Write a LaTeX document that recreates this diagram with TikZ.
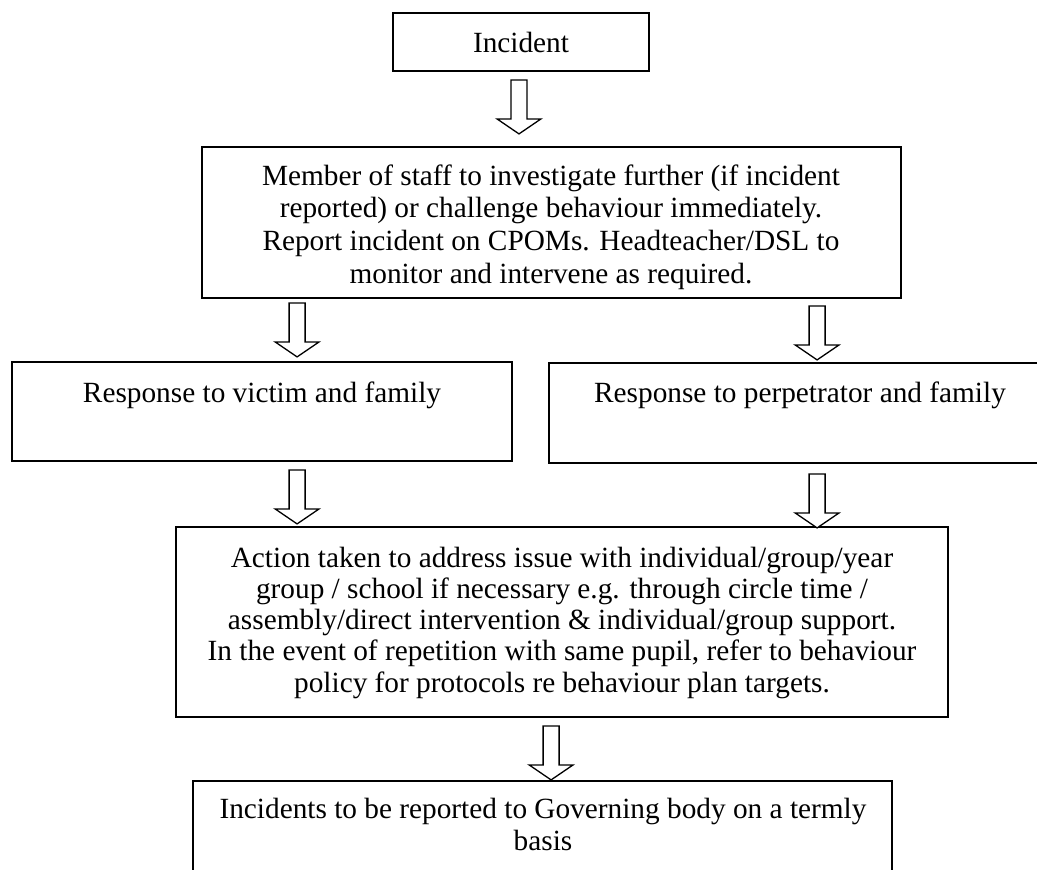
\documentclass[tikz,border=0pt]{standalone}
\usepackage{fontspec}
\setmainfont{Liberation Serif}
\usetikzlibrary{calc}
\begin{document}
\begin{tikzpicture}[x=1pt,y=-1pt,
  box/.style={draw=black,line width=1.8pt,inner sep=0pt,rectangle},
  txt/.style={anchor=base,inner sep=0pt,font=\fontsize{29.3}{32.7}\selectfont},
  txtb/.style={anchor=base,inner sep=0pt,font=\fontsize{29.3}{31.3}\selectfont},
  blk/.style={draw=black,line width=1.3pt,fill=white,line join=miter},
  blockarrow/.pic={\draw[blk] (-8,0) -- (8,0) -- (8,39) -- (22,39) -- (0,54) -- (-22,39) -- (-8,39) -- cycle;}]
\useasboundingbox (0,0) rectangle (1037,870);
\clip (0,0) rectangle (1037,870);
\fill[white] (0,0) rectangle (1037,870);
% boxes
\node[box,minimum width=256,minimum height=58] (inc) at (521,42) {};
\node[box,minimum width=699,minimum height=151] (staff) at (551.5,222.5) {};
\node[box,minimum width=500,minimum height=99] (victim) at (262,411.5) {};
\node[box,minimum width=502,minimum height=100] (perp) at (800,413) {};
\node[box,minimum width=772,minimum height=190] (action) at (562,622) {};
\node[box,minimum width=699,minimum height=119] (gov) at (542.5,840.5) {};
% texts
\node[txt] (tinc) at (521,52) {Incident};
\node[txt] (tstaff) at (551,185) {\begin{tabular}[t]{@{}c@{}}Member of staff to investigate further (if incident\\ reported) or challenge behaviour immediately.\\ Report incident on CPOMs. Headteacher/DSL to\\ monitor and intervene as required.\end{tabular}};
\node[txt] (tvictim) at (262,402) {Response to victim and family};
\node[txt] (tperp) at (800,402) {Response to perpetrator and family};
\node[txtb] (taction) at (562,567) {\begin{tabular}[t]{@{}c@{}}Action taken to address issue with individual/group/year\\ group / school if necessary e.g. through circle time /\\ assembly/direct intervention \& individual/group support.\\ In the event of repetition with same pupil, refer to behaviour\\ policy for protocols re behaviour plan targets.\end{tabular}};
\node[txt,font=\fontsize{29.3}{32}\selectfont] (tgov) at (543,818) {\begin{tabular}[t]{@{}c@{}}Incidents to be reported to Governing body on a termly\\ basis\end{tabular}};
% block arrows (connectors)
\coordinate (a1) at ($(inc.south)+(-2,8)$);
\coordinate (a2l) at ($(staff.south west)+(96,4)$);
\coordinate (a2r) at ($(staff.south west)+(616,7)$);
\coordinate (a3l) at ($(victim.south west)+(286,8)$);
\coordinate (a3r) at ($(perp.south west)+(269,10)$);
\coordinate (a4) at ($(action.south west)+(376,8)$);
\pic at (a1) {blockarrow};
\pic at (a2l) {blockarrow};
\pic at (a2r) {blockarrow};
\pic at (a3l) {blockarrow};
\pic at (a3r) {blockarrow};
\pic at (a4) {blockarrow};
\end{tikzpicture}
\end{document}
